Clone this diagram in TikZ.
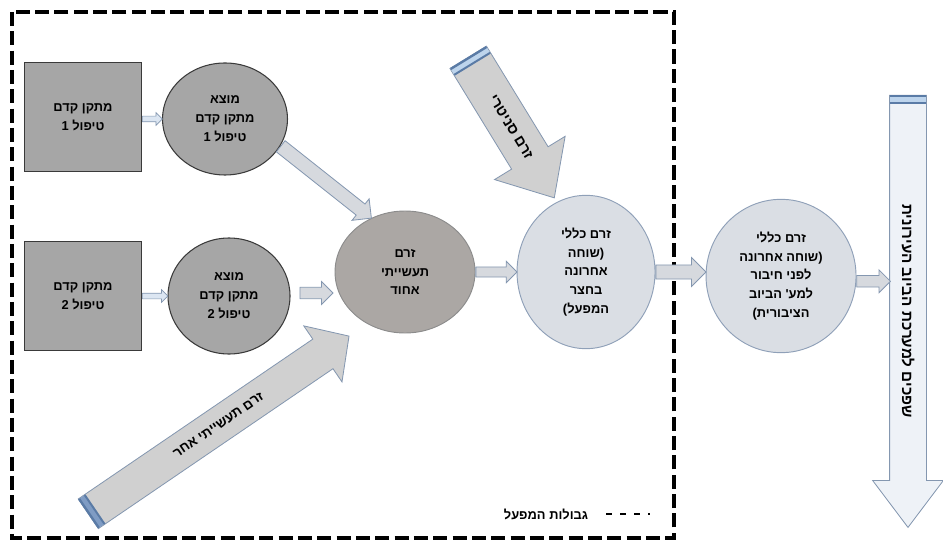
\documentclass[tikz,border=0pt]{standalone}
\usepackage{fontspec}
\newfontfamily\hebfont[Script=Hebrew]{Liberation Sans}
\TeXXeTstate=1
\usepackage{tikz}
\usetikzlibrary{shapes.geometric,shapes.arrows,calc}
\newcommand{\heb}[1]{\beginR#1\endR}
\definecolor{boxfill}{HTML}{A6A6A6}
\definecolor{boxline}{HTML}{3A3A3A}
\definecolor{mixfill}{HTML}{ABA7A4}
\definecolor{mixline}{HTML}{8C8C8C}
\definecolor{genfill}{HTML}{DADEE4}
\definecolor{genline}{HTML}{8FA0B8}
\definecolor{flowfill}{HTML}{D6D9DE}
\definecolor{flowline}{HTML}{8497B0}
\definecolor{smallfill}{HTML}{DCE6F2}
\definecolor{bigfill}{HTML}{D0D0D0}
\definecolor{sewerfill}{HTML}{EEF2F7}
\definecolor{banddark}{HTML}{5A7BA6}
\definecolor{bandlight}{HTML}{BDD4EC}
\definecolor{bandmid}{HTML}{7F9CC4}
\tikzstyle{prebox} = [rectangle, draw=boxline, fill=boxfill, line width=0.9pt,
    minimum width=3.51cm, minimum height=3.27cm, align=center]
\tikzstyle{outlet} = [ellipse, draw=boxline, fill=boxfill, line width=0.9pt,
    inner sep=0pt, align=center]
\tikzstyle{mixed} = [ellipse, draw=mixline, fill=mixfill, line width=0.8pt,
    inner sep=0pt, align=center, minimum width=4.2cm, minimum height=3.66cm]
\tikzstyle{general} = [ellipse, draw=genline, fill=genfill, line width=0.8pt,
    inner sep=0pt, align=center, minimum height=4.6cm]
\tikzstyle{smallflow} = [single arrow, draw=flowline, fill=smallfill, line width=0.6pt,
    inner xsep=0pt, inner ysep=0.075cm, single arrow head extend=0.105cm, single arrow tip angle=90]
\tikzstyle{flow} = [single arrow, draw=flowline, fill=flowfill, line width=0.7pt,
    inner xsep=0pt, inner ysep=0.16cm, single arrow head extend=0.17cm, single arrow tip angle=90]
\tikzstyle{bigflow} = [single arrow, draw=flowline, fill=bigfill, line width=0.7pt, inner xsep=0pt]
\tikzstyle{border} = [draw=black, line width=2.6pt, dash pattern=on 12pt off 4.5pt]
\tikzstyle{legenddash} = [draw=black, line width=1.8pt, dash pattern=on 5pt off 7pt]
% block arrow: name, from, to, text
\newcommand{\flow}[5][]{\path let \p1=(#3), \p2=(#4), \n1={atan2(\y2-\y1,\x2-\x1)},
    \n2={veclen(\x2-\x1,\y2-\y1)} in
    node[#1, anchor=tail, rotate=\n1, minimum height=\n2] (#2) at (\p1) {}
    node[rotate=\n1] (#2 text) at ($(\p1)!0.5!(\p2)$) {#5};}
% stripes at the tail of a block arrow
\newcommand{\band}[3]{%
  \draw[#3, line width=0.21cm] ($(#1.tail)!0.12cm!(#1.tip)$) coordinate (#1b1)
      ($(#1b1)!#2!90:(#1.tip)$) -- ($(#1b1)!#2!-90:(#1.tip)$);
  \draw[banddark, line width=0.07cm] ($(#1.tail)!0.035cm!(#1.tip)$) coordinate (#1b2)
      ($(#1b2)!#2!90:(#1.tip)$) -- ($(#1b2)!#2!-90:(#1.tip)$);
  \draw[banddark, line width=0.06cm] ($(#1.tail)!0.24cm!(#1.tip)$) coordinate (#1b3)
      ($(#1b3)!#2!90:(#1.tip)$) -- ($(#1b3)!#2!-90:(#1.tip)$);}

\begin{document}
\begin{tikzpicture}[x=0.03cm, y=-0.03cm,
    every node/.style={font=\hebfont\bfseries\fontsize{11pt}{16pt}\selectfont}]
  \useasboundingbox (0,0) rectangle (943,545);
  % plant border
  \draw[border] (12,12) rectangle (674,538);

  % Place nodes
  \node [prebox] (pre1) at (83,117) {\heb{מתקן קדם}\\\heb{טיפול 1}};
  \node [outlet, right of=pre1, node distance=4.26cm, yshift=-0.06cm, minimum width=3.75cm, minimum height=3.36cm] (out1)
      {\heb{מוצא}\\\heb{מתקן קדם}\\\heb{טיפול 1}};
  \node [prebox, below of=pre1, node distance=5.37cm] (pre2) {\heb{מתקן קדם}\\\heb{טיפול 2}};
  \node [outlet, right of=pre2, node distance=4.38cm, minimum width=3.66cm, minimum height=3.48cm] (out2)
      {\heb{מוצא}\\\heb{מתקן קדם}\\\heb{טיפול 2}};
  \node [mixed, right of=out2, node distance=5.28cm, yshift=0.72cm] (mix)
      {\heb{זרם}\\\heb{תעשייתי}\\\heb{אחוד}};
  \node [general, right of=mix, node distance=5.43cm, minimum width=4.14cm] (gen1)
      {\heb{זרם כללי}\\\heb{(שוחה}\\\heb{אחרונה}\\\heb{בחצר}\\\heb{המפעל)}};
  \node [general, right of=gen1, node distance=5.85cm, yshift=-0.12cm, minimum width=4.5cm] (gen2)
      {\heb{זרם כללי}\\\heb{(שוחה אחרונה}\\\heb{לפני חיבור}\\\heb{למע' הביוב}\\\heb{הציבורית)}};
  \node (legend) at (546,514) {\heb{גבולות המפעל}};

  \coordinate (santail) at (468,57);
  \coordinate (indtail) at (88,514);
  \coordinate (sewtail) at (908,95);
  \coordinate (sewtip) at (908,527);
  \coordinate (sewin) at (890,280);

  % big streams
  \flow[bigflow, inner ysep=0.63cm, single arrow head extend=0.6cm, single arrow tip angle=83]
      {san}{santail}{$(gen1.115)+(0,-6)$}{\fontsize{12.5pt}{15pt}\selectfont\heb{זרם סניטרי}}
  \flow[bigflow, inner ysep=0.525cm, single arrow head extend=0.48cm, single arrow tip angle=94]
      {ind}{indtail}{$(mix.225)+(-10,18)$}{\fontsize{11.5pt}{15pt}\selectfont\heb{זרם תעשייתי אחר}}
  \flow[bigflow, fill=sewerfill, inner ysep=0.54cm, single arrow head extend=0.51cm, single arrow tip angle=74]
      {sew}{sewtail}{sewtip}{\fontsize{13pt}{15pt}\selectfont\heb{שפכים למערכת הביוב העירונית}}
  \band{san}{0.63cm}{bandlight}
  \band{ind}{0.525cm}{bandmid}
  \band{sew}{0.54cm}{bandlight}

  % connectors
  \flow[smallflow]{f1}{pre1.east |- out1.west}{out1.west}{}
  \flow[smallflow]{f2}{pre2.east |- out2.west}{out2.west}{}
  \flow[flow, inner ysep=0.2cm, single arrow head extend=0.2cm]{f3}{out1.-26}{mix.122}{}
  \flow[flow]{f4}{$(out2.east)+(9,-3)$}{$(mix.west |- out2.east)+(-2,-3)$}{}
  \flow[flow, inner ysep=0.14cm]{f5}{mix.east}{mix.east -| gen1.west}{}
  \flow[flow, inner ysep=0.2cm, single arrow head extend=0.22cm]{f6}{gen1.east}{gen1.east -| gen2.west}{}
  \flow[flow]{f7}{gen2.-4}{gen2.-4 -| sewin}{}

  % legend
  \draw[legenddash] ($(legend.east)+(14,0)$) -- ++(44,0);
\end{tikzpicture}
\end{document}
